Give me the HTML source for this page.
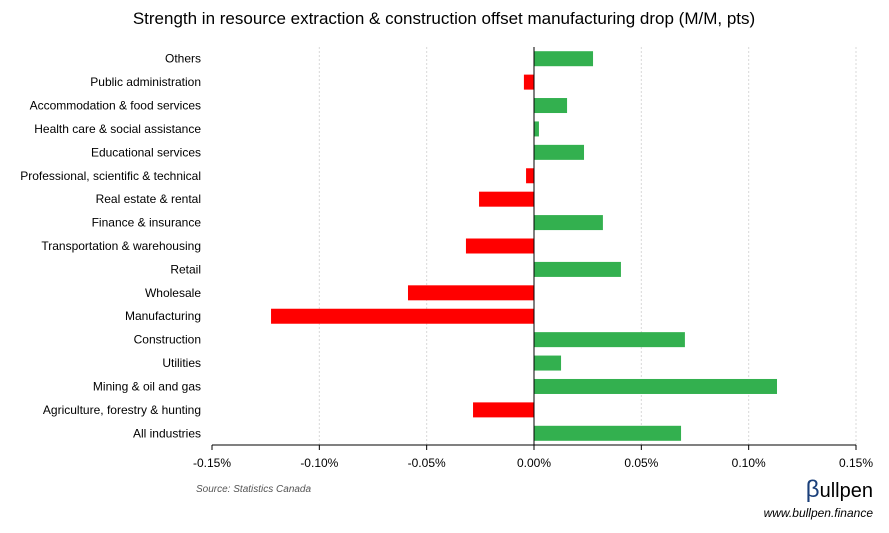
<!DOCTYPE html>
<html><head><meta charset="utf-8"><style>
body{margin:0;background:#fff;width:889px;height:528px;overflow:hidden;font-family:"Liberation Sans",sans-serif}
</style></head><body>
<svg id="chart" width="889" height="528" xmlns="http://www.w3.org/2000/svg" font-family="Liberation Sans, sans-serif">
<text x="444" y="24" text-anchor="middle" font-size="17" fill="#000">Strength in resource extraction &amp; construction offset manufacturing drop (M/M, pts)</text>
<g id="grid"></g><g id="bars"></g><g id="labels"></g><g id="xaxis"></g>
<text x="196" y="492" font-size="10" font-style="italic" fill="#555">Source: Statistics Canada</text>
<text x="873" y="497" text-anchor="end" font-size="20" fill="#000"><tspan fill="#1a3f7a" font-size="24">β</tspan>ullpen</text>
<text x="873" y="517" text-anchor="end" font-size="12" font-style="italic" fill="#000">www.bullpen.finance</text>
</svg>
<script>
const categories=["Others","Public administration","Accommodation & food services","Health care & social assistance","Educational services","Professional, scientific & technical","Real estate & rental","Finance & insurance","Transportation & warehousing","Retail","Wholesale","Manufacturing","Construction","Utilities","Mining & oil and gas","Agriculture, forestry & hunting","All industries"];
const values=[0.0275,-0.0047,0.0154,0.0023,0.0233,-0.0037,-0.0256,0.0321,-0.0317,0.0405,-0.0587,-0.1225,0.0703,0.0126,0.1132,-0.0284,0.0685];
const ticks=[-0.15,-0.10,-0.05,0,0.05,0.10,0.15];
const tickLabels=["-0.15%","-0.10%","-0.05%","0.00%","0.05%","0.10%","0.15%"];
const NS="http://www.w3.org/2000/svg";
const plotX0=212,plotX1=856,plotTop=47,plotBot=445;
function xs(v){return plotX0+(v-ticks[0])/(ticks[ticks.length-1]-ticks[0])*(plotX1-plotX0);}
const step=(plotBot-plotTop)/categories.length;
function ys(i){return plotTop+step*(i+0.5);}
function mk(tag,attrs,parent){const e=document.createElementNS(NS,tag);for(const k in attrs)e.setAttribute(k,attrs[k]);document.getElementById(parent).appendChild(e);return e;}
ticks.forEach((t,i)=>{
 if(t!==0&&i>0){const g=mk('line',{x1:xs(t),x2:xs(t),y1:plotTop,y2:plotBot,stroke:'#d9d9d9','stroke-dasharray':'2,2'},'grid');
 
 }
 const tk=mk('line',{x1:xs(t),x2:xs(t),y1:plotBot,y2:plotBot+5,stroke:'#000'},'xaxis');
 
 
 const tl=mk('text',{x:xs(t),y:plotBot+22,'text-anchor':'middle','font-size':12,fill:'#000'},'xaxis');tl.textContent=tickLabels[i];
 
 
});
const ax=mk('line',{x1:plotX0,x2:plotX1,y1:plotBot,y2:plotBot,stroke:'#000'},'xaxis');


const zl=mk('line',{x1:xs(0),x2:xs(0),y1:plotTop,y2:plotBot,stroke:'#000'},'xaxis');


categories.forEach((c,i)=>{
 const v=values[i],bh=15;
 const r=mk('rect',{x:Math.min(xs(0),xs(v)),y:ys(i)-bh/2,width:Math.abs(xs(v)-xs(0)),height:bh,fill:v>=0?'#33b04f':'#ff0000'},'bars');
 
 
 const l=mk('text',{x:201,y:ys(i)+4,'text-anchor':'end','font-size':12,fill:'#000'},'labels');l.textContent=c;
 
 
});
</script>
</body></html>
